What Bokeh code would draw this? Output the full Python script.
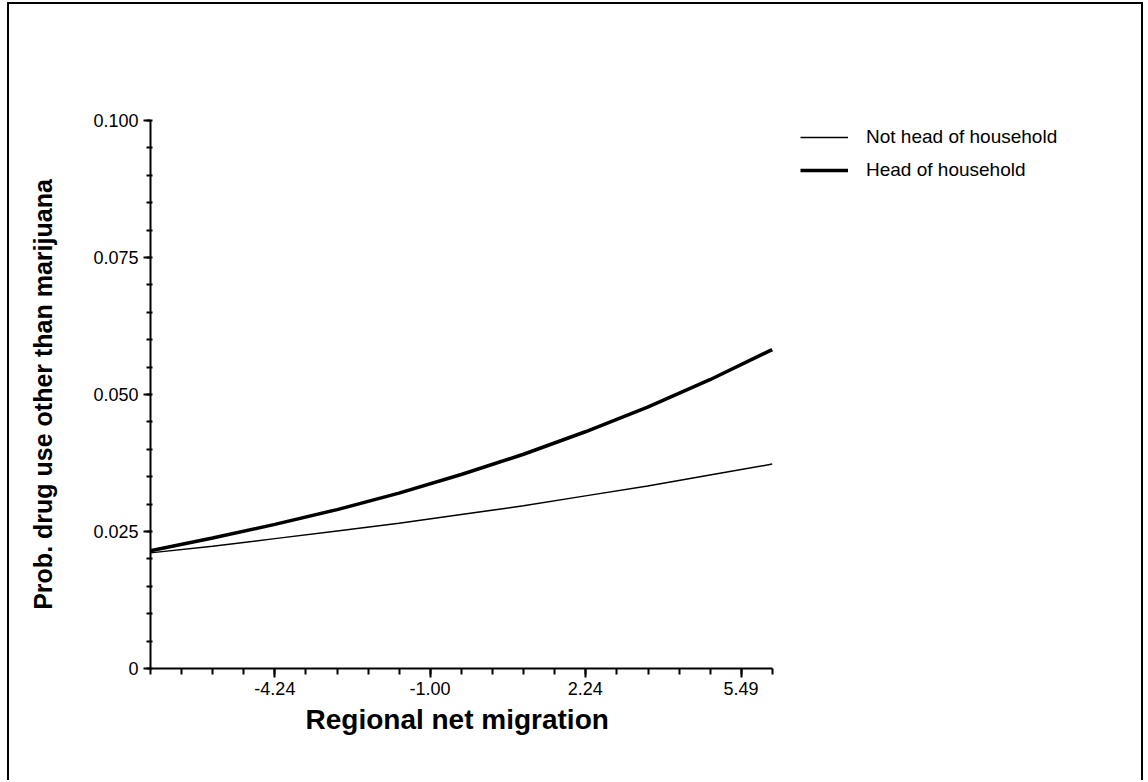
from bokeh.plotting import figure
from bokeh.models import (FixedTicker, PrintfTickFormatter, Legend, LegendItem, Range1d,
                          Title)
from bokeh.embed import file_html
from bokeh.resources import INLINE

# ---- data ----
net_migration = [-6.84, -5.54, -4.24, -2.94, -1.65, -0.35, 0.95, 2.24, 3.54, 4.84, 6.14]
not_head = [0.0211, 0.0223, 0.0237, 0.0251, 0.0265, 0.0281, 0.0297, 0.0315, 0.0333, 0.0353, 0.0373]
head = [0.0215, 0.0238, 0.0263, 0.0290, 0.0320, 0.0354, 0.0391, 0.0432, 0.0477, 0.0527, 0.0582]
series_names = ["Not head of household", "Head of household"]
x_title = "Regional net migration"
y_title = "Prob. drug use other than marijuana"

x_major = [-4.24, -1.00, 2.24, 5.49]
x_minor_step = 0.649
y_major = [0, 0.025, 0.05, 0.075, 0.1]
y_labels = ["0", "0.025", "0.050", "0.075", "0.100"]
y_minor_step = 0.005

x_minor = [x_major[0] + x_minor_step * k for k in range(-4, 17)]
y_minor = [round(y_minor_step * k, 4) for k in range(0, 21)]

FONT = "Liberation Sans"

# layout (canvas pixels)
W, H = 1136, 778
LEFT, RIGHT, TOP, BOTTOM = 141, 2, 116, 114
AXIS_PX = 622                      # pixel length of the drawn x axis
x_start, x_end = x_minor[0], x_minor[-1] + 0.002
frame_w = W - LEFT - RIGHT
x_view_end = x_start + (x_end - x_start) * frame_w / AXIS_PX

p = figure(width=W, height=H, output_backend="svg", toolbar_location=None, tools="",
           x_range=Range1d(x_start, x_view_end), y_range=Range1d(0, 0.1),
           min_border_left=LEFT, min_border_right=RIGHT, min_border_top=TOP,
           min_border_bottom=BOTTOM)
p.styles = {"margin-left": "7px", "margin-top": "2px",
            "border-left": "2px solid black", "border-right": "2px solid black",
            "border-top": "2px solid black"}
p.outline_line_color = None
p.xgrid.visible = False
p.ygrid.visible = False
p.background_fill_color = "white"
p.border_fill_color = "white"

# x axis
xa = p.xaxis[0]
xa.bounds = (x_start, x_end)
xa.ticker = FixedTicker(ticks=x_major, minor_ticks=x_minor)
xa.formatter = PrintfTickFormatter(format="%.2f")
xa.axis_label = None
xa.axis_line_width = 2
xa.major_tick_line_width = 2
xa.minor_tick_line_width = 2
xa.major_tick_in = 0
xa.major_tick_out = 9
xa.minor_tick_in = 0
xa.minor_tick_out = 6
xa.major_label_standoff = 4
xa.major_label_text_font = FONT
xa.major_label_text_font_size = "18px"
xa.major_label_text_color = "black"

# x axis title, centred under the drawn axis
xt = Title(text=x_title, align="left", offset=155, standoff=9,
           text_font=FONT, text_font_style="bold", text_font_size="28px",
           text_color="black")
p.add_layout(xt, "below")

# y axis
ya = p.yaxis[0]
ya.ticker = FixedTicker(ticks=y_major, minor_ticks=y_minor)
ya.major_label_overrides = dict(zip(y_major, y_labels))
ya.axis_label = y_title
ya.axis_line_width = 2
ya.major_tick_line_width = 2
ya.minor_tick_line_width = 2
ya.major_tick_in = 0
ya.major_tick_out = 7
ya.minor_tick_in = 2
ya.minor_tick_out = 4
ya.major_label_standoff = 5
ya.major_label_text_font = FONT
ya.major_label_text_font_size = "18px"
ya.major_label_text_color = "black"
ya.axis_label_text_font = FONT
ya.axis_label_text_font_style = "bold"
ya.axis_label_text_font_size = "25px"
ya.axis_label_text_color = "black"
ya.axis_label_standoff = 33

r1 = p.line(net_migration, not_head, line_width=1.5, line_color="black")
r2 = p.line(net_migration, head, line_width=3.5, line_color="black")

legend = Legend(items=[LegendItem(label=series_names[0], renderers=[r1]),
                       LegendItem(label=series_names[1], renderers=[r2])],
                location=(650, 487), glyph_width=48, glyph_height=20,
                label_height=20, label_standoff=18, spacing=11, padding=0, margin=0,
                border_line_color=None, background_fill_alpha=0,
                label_text_font=FONT, label_text_font_size="19px",
                label_text_color="black")
p.add_layout(legend)

open("out.html", "w").write(file_html(p, INLINE))
